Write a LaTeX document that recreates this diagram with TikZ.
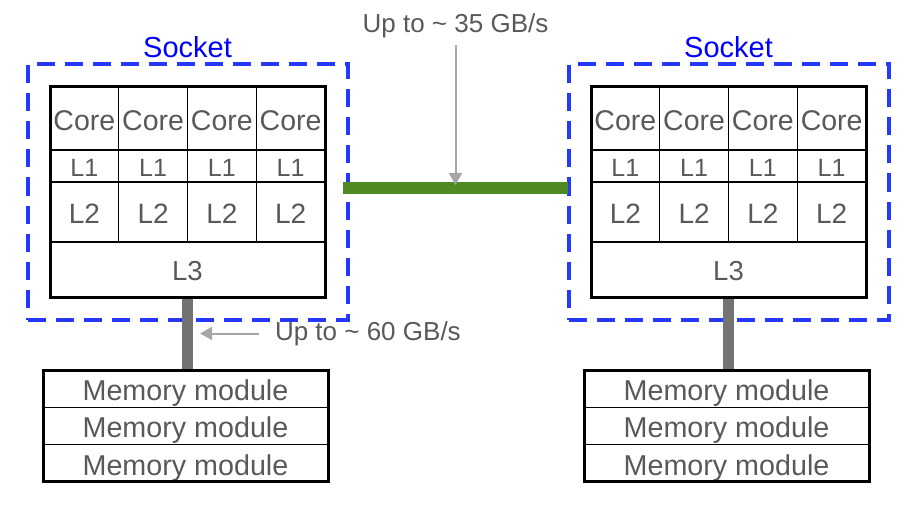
\documentclass[tikz,border=0pt]{standalone}
\usepackage{fontspec}
\setmainfont{Liberation Sans}
\usepackage{tikz}
\usetikzlibrary{arrows.meta, positioning, fit}

\definecolor{textgray}{HTML}{595959}
\definecolor{sockblue}{HTML}{2438FF}
\definecolor{linkgreen}{HTML}{4E8B22}
\definecolor{busgray}{HTML}{737373}
\definecolor{arrowgray}{HTML}{A6A6A6}

\begin{document}
\begin{tikzpicture}[x=1pt,y=-1pt,>={Triangle[length=12pt,width=13pt]},
        cell/.style={draw,line width=1.2pt,outer sep=0pt,inner sep=0pt,minimum width=68.75pt,text=textgray,text depth=0pt},
        corecell/.style={cell,minimum height=63pt,text height=24pt,font=\fontsize{28.5}{28.5}\selectfont},
        lonecell/.style={cell,minimum height=32pt,text height=20.5pt,font=\fontsize{25}{25}\selectfont},
        ltwocell/.style={cell,minimum height=60pt,text height=22.3pt,font=\fontsize{28}{28}\selectfont},
        lthreecell/.style={cell,minimum width=275pt,minimum height=55pt,text height=21pt,font=\fontsize{27.5}{27.5}\selectfont},
        memcell/.style={cell,minimum width=285pt,minimum height=37.3pt,text height=24pt,font=\fontsize{28.7}{28.7}\selectfont},
        boxframe/.style={draw,line width=3pt,inner sep=0pt},
        sockframe/.style={draw=sockblue,line width=4pt,dash pattern=on 18pt off 10pt,inner sep=21pt},
        socklabel/.style={text=blue,font=\fontsize{29}{29}\selectfont},
        busline/.style={busgray,line width=11pt},
        linkline/.style={linkgreen,line width=11pt},
        bwlabel/.style={text=textgray,font=\fontsize{26}{26}\selectfont},
        pointer/.style={->,arrowgray,line width=2pt}]

  \useasboundingbox (0,0) rectangle (912,505);

  \foreach \s/\dx in {1/0,2/541}{
    \foreach \c in {1,...,4}{
      \node[corecell] (core-\s-\c) at (\dx+50+68.75*\c-34.375,118.5) {Core};
      \node[lonecell] (l1-\s-\c) [below=0pt of core-\s-\c] {L1};
      \node[ltwocell] (l2-\s-\c) [below=0pt of l1-\s-\c] {L2};
    }
    \node[lthreecell,anchor=north west] (l3-\s) at (l2-\s-1.south west) {L3};
    \node[boxframe,fit=(core-\s-1)(l2-\s-4)(l3-\s)] (cpu-\s) {};
    \node[sockframe,fit=(cpu-\s)] (sock-\s) {};
    \node[socklabel] (socket-\s) [above=1.5pt of sock-\s] {Socket};

    \node[memcell] (mem-\s-1) [below=73pt of l3-\s,xshift=-2pt] {Memory module};
    \node[memcell] (mem-\s-2) [below=0pt of mem-\s-1] {Memory module};
    \node[memcell] (mem-\s-3) [below=0pt of mem-\s-2] {Memory module};
    \node[boxframe,fit=(mem-\s-1)(mem-\s-3)] (dimm-\s) {};
    \draw[busline,shorten <=1.5pt,shorten >=1.5pt] (l3-\s.south) -- coordinate (busmid-\s) (l3-\s.south |- mem-\s-1.north);
  }

  % link between the two sockets
  \draw[linkline] ([xshift=-6.5pt,yshift=4pt]sock-1.east) -- coordinate (linkmid) ([xshift=1.5pt,yshift=4pt]sock-2.west);

  \node[bwlabel] (bw35) at (linkmid |- 0,25.5) {Up to \textasciitilde{} 35 GB/s};
  \draw[pointer,shorten <=4pt,shorten >=3pt] (bw35) -- (linkmid);

  \node[bwlabel] (bw60) [right=84pt of busmid-1] {Up to \textasciitilde{} 60 GB/s};
  \draw[pointer,shorten <=12.5pt,shorten >=12.5pt] (bw60.west) -- (busmid-1);
\end{tikzpicture}
\end{document}
